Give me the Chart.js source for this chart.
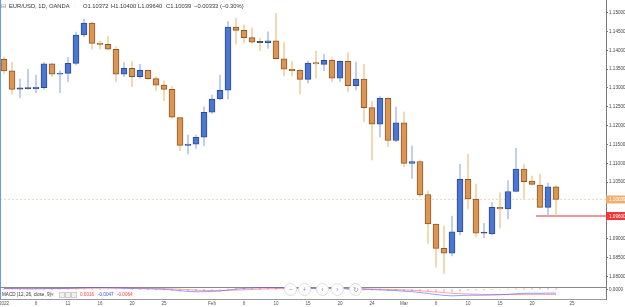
<!DOCTYPE html>
<html><head><meta charset="utf-8">
<script src="https://cdn.jsdelivr.net/npm/chart.js@4.4.1/dist/chart.umd.min.js"></script>
<style>
html,body{margin:0;padding:0;background:#fff;}
#wrap{position:relative;width:625px;height:307px;overflow:hidden;font-family:"Liberation Sans",Arial,sans-serif;}
#c{position:absolute;left:0;top:0;}
.t{position:absolute;white-space:nowrap;font-size:5.8px;line-height:8px;color:#333;}
.m{position:absolute;white-space:nowrap;font-size:4.6px;line-height:6px;color:#333;}
.sq{position:absolute;top:292px;width:4px;height:4px;border:1px solid #cfcfcf;background:#f0f0f0;}
.btn{position:absolute;top:283px;width:11px;height:11px;border:1px solid #dedede;border-radius:50%;background:#fff;font-size:7px;line-height:11px;text-align:center;color:#999;}
</style></head>
<body><div id="wrap"><canvas id="c" width="625" height="307"></canvas>
<div class="t" style="left:1px;top:2px;color:#777;">⊟</div>
<div class="t" style="left:9px;top:2px;">EUR/USD, 1D, OANDA</div>
<div class="t" style="left:74px;top:2px;color:#888;">·</div>
<div class="t" style="left:83px;top:2px;">O1.10372</div>
<div class="t" style="left:111px;top:2px;">H1.10400</div>
<div class="t" style="left:138px;top:2px;">L1.09640</div>
<div class="t" style="left:166px;top:2px;">C1.10039</div>
<div class="t" style="left:194px;top:2px;">−0.00333 (−0.30%)</div>
<div class="m" style="left:2px;top:292px;">MACD (12, 26, close, 9)</div>
<div class="m" style="left:51px;top:292px;color:#888;">▾</div>
<div class="sq" style="left:59px;"></div>
<div class="sq" style="left:65px;"></div>
<div class="sq" style="left:71px;"></div>
<div class="m" style="left:80px;top:292px;color:#ff4040;">0.0016</div>
<div class="m" style="left:98px;top:292px;color:#3b47ff;">-0.0047</div>
<div class="m" style="left:117px;top:292px;color:#ff4040;">-0.0064</div>
<div class="btn" style="left:284px;">−</div>
<div class="btn" style="left:298px;">+</div>
<div class="btn" style="left:316px;">‹</div>
<div class="btn" style="left:331px;">›</div>
<div class="btn" style="left:349px;">↻</div>
</div>
<script>
// ---- data (index 0 = Jan 2 2022, daily bars incl. Sunday bars) ----
const open = [1.13762,1.13459,1.12970,1.12980,1.12985,1.13008,1.13645,1.13364,1.13390,1.13656,
1.14408,1.14726,1.14187,1.14161,1.14028,1.13364,1.13523,1.13300,1.13470,1.13247,
1.13080,1.12965,1.12211,1.11478,1.11505,1.11691,1.12355,1.12708,1.12939,1.14620,
1.14532,1.14336,1.14214,1.14203,1.14256,1.13778,1.13497,1.13478,1.13231,1.13664,
1.13629,1.13736,1.13258,1.13709,1.13061,1.13239,1.12477,1.12036,1.12726,1.11606,
1.12078,1.11000,1.11048,1.10171,1.09388,1.08742,1.08610,1.09183,1.10575,1.10052,
1.09141,1.09122,1.09831,1.09786,1.10251,1.10849,1.10530,1.10424,1.09831,1.10372];
const high = [1.13831,1.13683,1.13239,1.13497,1.13345,1.13672,1.13660,1.13459,1.13815,1.14487,
1.14833,1.14760,1.14248,1.14363,1.14097,1.13672,1.13717,1.13629,1.13475,1.13300,
1.13186,1.13053,1.12215,1.11752,1.11752,1.12503,1.12814,1.13345,1.14761,1.14851,
1.14673,1.14601,1.14320,1.14495,1.14984,1.14203,1.13717,1.13490,1.13717,1.13983,
1.13895,1.13805,1.13715,1.13937,1.13691,1.13629,1.12655,1.12769,1.12730,1.12495,
1.12370,1.11459,1.11088,1.10272,1.09390,1.09335,1.09600,1.10973,1.11239,1.10450,
1.09406,1.09954,1.10219,1.10538,1.11398,1.10973,1.10663,1.10716,1.10477,1.10400];
const low = [1.13390,1.12833,1.12742,1.12947,1.12875,1.12965,1.13300,1.12875,1.13167,1.13611,
1.14355,1.14028,1.14028,1.14009,1.13167,1.13300,1.13034,1.13258,1.13212,1.12920,
1.12663,1.12203,1.11335,1.11247,1.11398,1.11467,1.12328,1.12681,1.12700,1.14161,
1.14203,1.14187,1.13991,1.14054,1.13770,1.13319,1.13319,1.12833,1.13125,1.13258,
1.13459,1.13167,1.13167,1.12902,1.12947,1.12105,1.11088,1.11691,1.11441,1.11574,
1.10910,1.10596,1.10113,1.08875,1.08238,1.08078,1.08538,1.09096,1.09786,1.09051,
1.09024,1.09096,1.09274,1.09521,1.10240,1.10047,1.10424,1.09830,1.09627,1.09640];
const close = [1.13452,1.12965,1.12980,1.12985,1.13020,1.13645,1.13364,1.13398,1.13656,1.14408,
1.14726,1.14187,1.14160,1.14028,1.13364,1.13523,1.13300,1.13470,1.13247,1.13072,
1.12965,1.12222,1.11478,1.11500,1.11691,1.12355,1.12708,1.12939,1.14620,1.14532,
1.14336,1.14214,1.14205,1.14256,1.13778,1.13497,1.13459,1.13231,1.13664,1.13640,
1.13736,1.13258,1.13709,1.13061,1.13239,1.12477,1.12036,1.12726,1.11606,1.12078,
1.11000,1.11048,1.10158,1.09388,1.08742,1.08610,1.09183,1.10575,1.10052,1.09141,
1.09150,1.09831,1.09786,1.10251,1.10849,1.10511,1.10442,1.09831,1.10378,1.10039];
const macd = [0.0010,0.0009,0.0008,0.0007,0.0007,0.0009,0.0010,0.0010,0.0012,0.0016,
0.0020,0.0021,0.0021,0.0020,0.0016,0.0013,0.0010,0.0008,0.0006,0.0003,
0.0000,-0.0008,-0.0018,-0.0026,-0.0031,-0.0030,-0.0026,-0.0021,-0.0008,0.0003,
0.0011,0.0016,0.0019,0.0021,0.0020,0.0018,0.0016,0.0013,0.0012,0.0011,
0.0011,0.0009,0.0009,0.0006,0.0004,0.0000,-0.0005,-0.0007,-0.0013,-0.0016,
-0.0024,-0.0030,-0.0040,-0.0052,-0.0065,-0.0076,-0.0082,-0.0078,-0.0074,-0.0074,
-0.0074,-0.0071,-0.0068,-0.0063,-0.0056,-0.0051,-0.0049,-0.0050,-0.0048,-0.0047];
const signal = [0.0008,0.0008,0.0008,0.0008,0.0008,0.0008,0.0008,0.0009,0.0009,0.0010,
0.0012,0.0014,0.0015,0.0016,0.0016,0.0016,0.0015,0.0014,0.0012,0.0011,
0.0009,0.0005,0.0001,-0.0004,-0.0010,-0.0014,-0.0016,-0.0017,-0.0015,-0.0011,
-0.0007,-0.0002,0.0002,0.0006,0.0009,0.0011,0.0012,0.0012,0.0012,0.0012,
0.0012,0.0011,0.0011,0.0010,0.0009,0.0007,0.0004,0.0002,-0.0001,-0.0004,
-0.0008,-0.0012,-0.0018,-0.0025,-0.0033,-0.0042,-0.0050,-0.0055,-0.0059,-0.0062,
-0.0064,-0.0066,-0.0066,-0.0066,-0.0065,-0.0064,-0.0063,-0.0063,-0.0064,-0.0064];
const hist = [0.0002,0.0001,0.0000,-0.0001,-0.0001,0.0001,0.0002,0.0001,0.0003,0.0006,
0.0008,0.0007,0.0006,0.0004,0.0000,-0.0003,-0.0005,-0.0006,-0.0006,-0.0008,
-0.0009,-0.0013,-0.0019,-0.0022,-0.0021,-0.0016,-0.0010,-0.0004,0.0007,0.0014,
0.0018,0.0018,0.0017,0.0015,0.0011,0.0007,0.0004,0.0001,0.0000,-0.0001,
-0.0001,-0.0002,-0.0002,-0.0004,-0.0005,-0.0007,-0.0009,-0.0009,-0.0012,-0.0012,
-0.0016,-0.0018,-0.0022,-0.0027,-0.0032,-0.0034,-0.0032,-0.0023,-0.0015,-0.0012,
-0.0010,-0.0005,-0.0002,0.0003,0.0009,0.0013,0.0014,0.0013,0.0016,0.0016];
const dateTickIdx = [0,4,8,12,16,20,26,30,34,38,42,46,50,54,58,62,66,71];
const dateTickLabels = ['2022','6','11','16','20','25','Feb','6','10','15','20','24','Mar','6','10','15','20','25'];
const priceTicks = [1.155,1.15,1.145,1.14,1.135,1.13,1.125,1.12,1.115,1.11,1.105,1.09,1.085,1.08];
const lastPrice = 1.10039;
const alertLevel = 1.09600;
const alertStartIdx = 67;

// ---- styles ----
const UP = '#4a76d6', UP_B = '#2f4b8e', UP_W = '#b0c6f4';
const DN = '#db9550', DN_B = '#8a5a2b', DN_W = '#f3cfa5';
const DOJI = '#3a3f55';
const idx = open.map((_, i) => i);
const isUp = i => close[i] >= open[i];
const isDoji = i => Math.abs(close[i] - open[i]) < 0.00012;

Chart.defaults.font.family = "'Liberation Sans', Arial, sans-serif";

const overlay = {
  id: 'overlay',
  beforeDatasetsDraw(chart) {
    const {ctx, chartArea} = chart;
    ctx.save();
    ctx.strokeStyle = '#8a8a8a'; ctx.lineWidth = 1;
    const sy = Math.round(chartArea.bottom - 12) + 0.5;
    ctx.beginPath(); ctx.moveTo(chartArea.left, sy); ctx.lineTo(chartArea.right, sy); ctx.stroke();
    ctx.restore();
  },
  afterDraw(chart) {
    const {ctx, chartArea} = chart;
    const ys = chart.scales.y;
    ctx.save();
    ctx.strokeStyle = 'rgba(70,140,225,0.85)'; ctx.lineWidth = 1;
    ctx.beginPath(); ctx.moveTo(0.5, 0); ctx.lineTo(0.5, chartArea.bottom); ctx.stroke();
    const box = (v, fill) => {
      const py = ys.getPixelForValue(v);
      ctx.fillStyle = fill; ctx.fillRect(ys.left, py - 4, 25, 8);
      ctx.fillStyle = '#fff'; ctx.font = "4.6px 'Liberation Sans', Arial";
      ctx.textBaseline = 'middle'; ctx.textAlign = 'left';
      ctx.fillText(v.toFixed(5), ys.left + 3, py + 0.3);
    };
    box(lastPrice, '#efae6e');
    box(alertLevel, '#f03636');
    const y2 = chart.scales.y2;
    ctx.fillStyle = '#444'; ctx.font = "4.6px 'Liberation Sans', Arial"; ctx.textBaseline = 'middle';
    const zy = y2.getPixelForValue(0);
    ctx.strokeStyle = '#777'; ctx.beginPath(); ctx.moveTo(ys.left, Math.round(zy)+0.5); ctx.lineTo(ys.left+2, Math.round(zy)+0.5); ctx.stroke();
    ctx.fillText('0.0000', ys.left + 3, zy);
    ctx.restore();
  }
};

new Chart(document.getElementById('c'), {
  type: 'bar',
  data: {
    datasets: [
      { type: 'bar', label: 'body', order: 0,
        data: idx.map(i => ({x: i, y: [open[i], close[i]]})),
        backgroundColor: c => isDoji(c.dataIndex) ? DOJI : (isUp(c.dataIndex) ? UP : DN),
        borderColor: c => isDoji(c.dataIndex) ? DOJI : (isUp(c.dataIndex) ? UP_B : DN_B),
        borderWidth: 1, borderSkipped: false, barThickness: 6, minBarLength: 1.2, grouped: false, yAxisID: 'y' },
      { type: 'bar', label: 'wick', order: 1,
        data: idx.map(i => ({x: i, y: [low[i], high[i]]})),
        backgroundColor: c => isUp(c.dataIndex) ? UP_W : DN_W,
        borderWidth: 0, barThickness: 1, grouped: false, yAxisID: 'y' },
      { type: 'line', label: 'last', order: 2,
        data: [{x: -0.5, y: lastPrice}, {x: 75.25, y: lastPrice}],
        borderColor: 'rgba(240,175,115,0.5)', borderWidth: 1, borderDash: [2, 2], pointRadius: 0, yAxisID: 'y' },
      { type: 'line', label: 'alert', order: 2,
        data: [{x: alertStartIdx - 0.5, y: alertLevel}, {x: 75.25, y: alertLevel}],
        borderColor: '#d23232', borderWidth: 1, pointRadius: 0, yAxisID: 'y' },
      { type: 'line', label: 'MACD', order: 3,
        data: idx.map(i => ({x: i, y: macd[i]})),
        borderColor: 'rgba(70,80,255,0.55)', borderWidth: 1, pointRadius: 0, yAxisID: 'y2' },
      { type: 'line', label: 'Signal', order: 3,
        data: idx.map(i => ({x: i, y: signal[i]})),
        borderColor: 'rgba(255,90,90,0.55)', borderWidth: 1, pointRadius: 0, yAxisID: 'y2' },
      { type: 'bar', label: 'Hist', order: 4,
        data: idx.map(i => ({x: i, y: [0, hist[i]]})),
        backgroundColor: 'rgba(255,110,110,0.45)', borderWidth: 0, barThickness: 1, grouped: false, yAxisID: 'y2' }
    ]
  },
  options: {
    responsive: false, animation: false, events: [],
    layout: {padding: 0},
    plugins: {legend: {display: false}, tooltip: {enabled: false}},
    scales: {
      x: { type: 'linear', min: -0.5, max: 75.25, offset: false,
        grid: {display: false, drawTicks: false},
        border: {display: true, color: '#9a9a9a', width: 1},
        afterBuildTicks: s => { s.ticks = dateTickIdx.map(v => ({value: v})); },
        afterFit: s => { s.height = 8; s.paddingLeft = 0; s.paddingRight = 0; },
        ticks: { autoSkip: false, maxRotation: 0, padding: 2, color: '#555', font: {size: 4.6},
          callback: (v, i) => dateTickLabels[i] }
      },
      y: { type: 'linear', position: 'right', min: 1.073958, max: 1.153372,
        grid: {display: true, drawOnChartArea: false, drawTicks: true, tickLength: 2, color: '#777'},
        border: {display: true, color: '#7a7a7a', width: 1},
        afterBuildTicks: s => { s.ticks = priceTicks.map(v => ({value: v})); },
        afterFit: s => { s.width = 19; s.paddingTop = 0; s.paddingBottom = 0; },
        ticks: { padding: 1, color: '#444', font: {size: 4.6}, callback: v => Number(v).toFixed(5) }
      },
      y2: { type: 'linear', display: false, min: -0.012125, max: 0.36163 }
    }
  },
  plugins: [overlay]
});
</script>
</body></html>
